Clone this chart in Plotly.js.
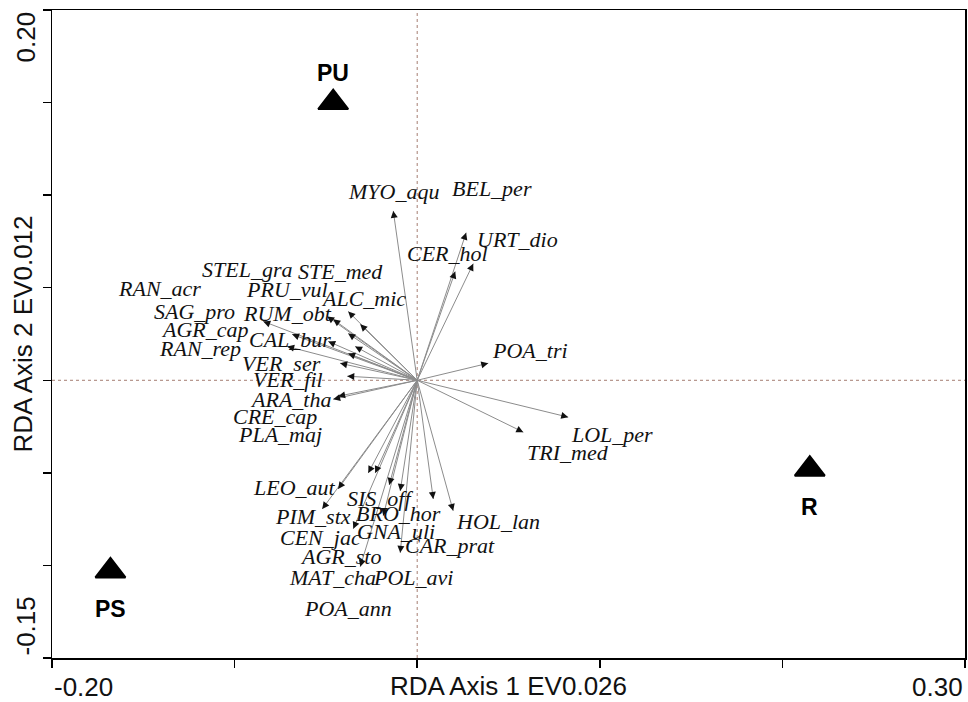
<!DOCTYPE html>
<html>
<head>
<meta charset="utf-8">
<script src="https://cdn.plot.ly/plotly-3.0.1.min.js"></script>
<style>
html,body{margin:0;padding:0;background:#fff;}
#chart{width:968px;height:702px;}
</style>
</head>
<body>
<div id="chart"></div>
<script>
// ---------- DATA ----------
const species = ["RAN_acr","SAG_pro","AGR_cap","STEL_gra","PRU_vul","STE_med","ALC_mic","RUM_obt","CAL_bur","RAN_rep","VER_ser","PLA_maj","VER_fil","ARA_tha","CRE_cap",
  "MYO_aqu","BEL_per","URT_dio","CER_hol","POA_tri","LOL_per","TRI_med",
  "LEO_aut","PIM_stx","CEN_jac","MAT_cha","AGR_sto","SIS_off","BRO_hor","GNA_uli","POL_avi","CAR_prat","HOL_lan","POA_ann"];
const speciesAx1 = [-0.0843,-0.0685,-0.0712,-0.0493,-0.0460,-0.0378,-0.0312,-0.0378,-0.0487,-0.0340,-0.0378,-0.0422,-0.0383,-0.0433,-0.0460,
  -0.0131,0.0268,0.0307,0.0208,0.0389,0.0827,0.0581,
  -0.0433,-0.0520,-0.0350,-0.0312,-0.0268,-0.0230,-0.0153,-0.0093,-0.0093,0.0088,0.0197,-0.0186];
const speciesAx2 = [0.0318,0.0248,0.0183,0.0345,0.0329,0.0372,0.0302,0.0253,0.0210,0.0183,0.0145,0.0092,0.0022,-0.0086,-0.0102,
  0.0915,0.0797,0.0630,0.0587,0.0092,-0.0199,-0.0280,
  -0.0587,-0.0695,-0.0802,-0.1007,-0.0501,-0.0501,-0.0565,-0.0598,-0.0932,-0.0641,-0.0705,-0.0732];

const sites = ["PU","R","PS"];
const sitesAx1 = [-0.046, 0.215, -0.168];
const sitesAx2 = [0.150, -0.048, -0.103];

const xRange = [-0.20, 0.30];
const yRange = [-0.15, 0.20];
const xTitle = "RDA Axis 1 EV0.026";
const yTitle = "RDA Axis 2 EV0.012";

// ---------- LAYOUT / STYLE (label offsets in px from arrow tips) ----------
const labelShift = {
  RAN_acr:[-104,-33], SAG_pro:[-98,-23], AGR_cap:[-82,-17], STEL_gra:[-80,-47], PRU_vul:[-46,-30],
  STE_med:[-8,-40], ALC_mic:[3,-26], RUM_obt:[-61,-20], CAL_bur:[-38,-2], RAN_rep:[-155,2],
  VER_ser:[-67,10], PLA_maj:[-60,71], VER_fil:[-59,3], ARA_tha:[-48,3], CRE_cap:[-58,17],
  MYO_aqu:[0,-19], BEL_per:[26,-44], URT_dio:[44,-24], CER_hol:[-8,-18], POA_tri:[42,-13],
  LOL_per:[44,17], TRI_med:[45,20],
  LEO_aut:[-44,-1], PIM_stx:[-9,8], CEN_jac:[-33,9], MAT_cha:[-28,11], AGR_sto:[-28,83],
  SIS_off:[5,25], BRO_hor:[9,29], GNA_uli:[-4,40], POL_avi:[13,25], CAR_prat:[17,47],
  HOL_lan:[45,11], POA_ann:[-35,93]
};
const siteShift = {PU:30, R:-38, PS:-38};

const W = 968, H = 702;
const margin = {l:52, r:3, t:10, b:44};
const pw = W - margin.l - margin.r, ph = H - margin.t - margin.b;
const pxX = pw / (xRange[1]-xRange[0]);
const pxY = ph / (yRange[1]-yRange[0]);

// arrow shafts
const lx = [], ly = [];
speciesAx1.forEach((v,i)=>{ lx.push(0, v, null); ly.push(0, speciesAx2[i], null); });

const traces = [
  {x: lx, y: ly, mode:'lines', line:{color:'#8c8c8c', width:1}, hoverinfo:'skip', showlegend:false},
  {x: sitesAx1, y: sitesAx2, mode:'markers', marker:{symbol:'triangle-up', size:26, color:'#000', line:{color:'#000', width:2}},
   text: sites, hoverinfo:'text', showlegend:false}
];

const annotations = [];
// arrowheads
speciesAx1.forEach((v,i)=>{
  const dx = v*pxX, dy = -speciesAx2[i]*pxY;
  const len = Math.sqrt(dx*dx+dy*dy);
  const L = 7;
  annotations.push({x:v, y:speciesAx2[i], xref:'x', yref:'y', text:'', showarrow:true,
    ax: -dx/len*L, ay: -dy/len*L, arrowhead:2, arrowsize:1.4, arrowwidth:1, arrowcolor:'#111', standoff:0});
});
// species labels
species.forEach((s,i)=>{
  const sh = labelShift[s];
  annotations.push({x:speciesAx1[i], y:speciesAx2[i], xref:'x', yref:'y', text:s, showarrow:false,
    xshift:sh[0], yshift:-sh[1], xanchor:'center', yanchor:'middle',
    font:{family:'Liberation Serif, Times New Roman, serif', size:22, color:'#111', style:'italic'}});
});
// site labels
sites.forEach((s,i)=>{
  annotations.push({x:sitesAx1[i], y:sitesAx2[i], xref:'x', yref:'y', text:'<b>'+s+'</b>', showarrow:false,
    yshift:siteShift[s], xanchor:'center', yanchor:'middle',
    font:{family:'Liberation Sans, Arial, sans-serif', size:23, color:'#000'}});
});
// axis end labels
const axFont = {family:'Liberation Sans, Arial, sans-serif', size:26, color:'#111'};
annotations.push({x:0, y:0, xref:'paper', yref:'paper', text:xRange[0].toFixed(2), showarrow:false, xanchor:'left', yanchor:'top', yshift:-12, font:axFont});
annotations.push({x:1, y:0, xref:'paper', yref:'paper', text:xRange[1].toFixed(2), showarrow:false, xanchor:'right', yanchor:'top', yshift:-12, font:axFont});
annotations.push({x:0, y:1, xref:'paper', yref:'paper', text:yRange[1].toFixed(2), showarrow:false, xanchor:'right', yanchor:'top', xshift:-10, textangle:-90, font:axFont});
annotations.push({x:0, y:0, xref:'paper', yref:'paper', text:yRange[0].toFixed(2), showarrow:false, xanchor:'right', yanchor:'bottom', xshift:-10, textangle:-90, font:axFont});

const layout = {
  width: W, height: H, margin: margin,
  paper_bgcolor:'#fff', plot_bgcolor:'#fff',
  showlegend:false,
  xaxis:{range:xRange, dtick:0.1, tick0:0, ticks:'outside', ticklen:8, tickwidth:1.5, tickcolor:'#000',
    showticklabels:false, showgrid:false, zeroline:false, showline:true, linecolor:'#000', linewidth:1.5, mirror:true,
    title:{text:xTitle, font:axFont, standoff:10}},
  yaxis:{range:yRange, dtick:0.05, tick0:0, ticks:'outside', ticklen:8, tickwidth:1.5, tickcolor:'#000',
    showticklabels:false, showgrid:false, zeroline:false, showline:true, linecolor:'#000', linewidth:1.5, mirror:true,
    title:{text:yTitle, font:axFont, standoff:2}},
  shapes:[
    {type:'line', xref:'x', yref:'paper', x0:0, x1:0, y0:0, y1:1, line:{color:'#a57d72', width:1, dash:'dot'}, layer:'below'},
    {type:'line', xref:'paper', yref:'y', x0:0, x1:1, y0:0, y1:0, line:{color:'#a57d72', width:1, dash:'dot'}, layer:'below'}
  ],
  annotations: annotations
};

Plotly.newPlot('chart', traces, layout, {displayModeBar:false, staticPlot:true});
</script>
</body>
</html>
